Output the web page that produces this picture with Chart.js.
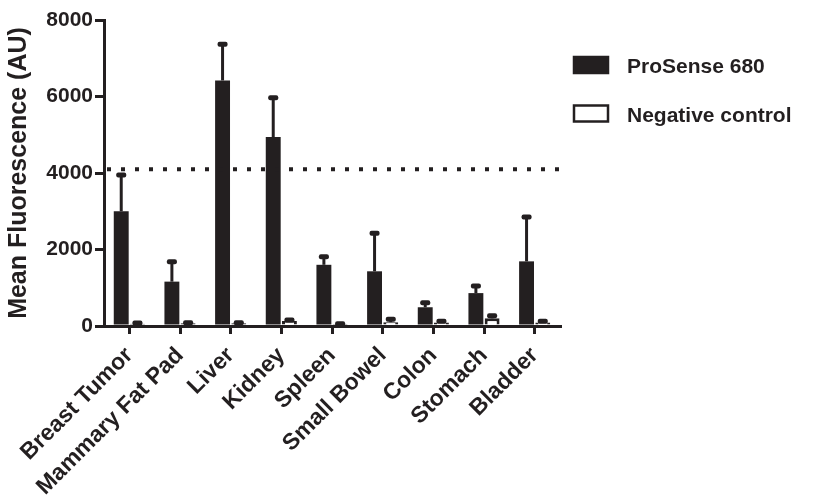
<!DOCTYPE html>
<html>
<head>
<meta charset="utf-8">
<script src="https://cdn.jsdelivr.net/npm/chart.js@4.4.1/dist/chart.umd.min.js"></script>
<style>
  html, body { margin: 0; padding: 0; background: #fff; }
  #wrap { width: 827px; height: 496px; position: relative; }
</style>
</head>
<body>
<div id="wrap"><canvas id="chart"></canvas></div>
<script>
// tissues and read-off values (AU)
const tissues = ['Breast Tumor', 'Mammary Fat Pad', 'Liver', 'Kidney', 'Spleen', 'Small Bowel', 'Colon', 'Stomach', 'Bladder'];
const prosense = [3000, 1160, 6420, 4940, 1600, 1430, 490, 860, 1690];
const prosenseErr = [960, 530, 960, 1040, 225, 1010, 130, 200, 1170];
const negative = [60, 70, 70, 130, 50, 100, 90, 200, 90];
const negativeErr = [30, 30, 30, 40, 20, 90, 50, 80, 50];
const yTicks = [0, 2000, 4000, 6000, 8000];
const thresholdValue = 4100;

const INK = '#231f20';
const FAMILY = '"Liberation Sans", Arial, sans-serif';

// upper error bars, dotted threshold line and the legend on the right
const extrasPlugin = {
    id: 'extras',
    afterDatasetsDraw(chart) {
        const ctx = chart.ctx;
        const yScale = chart.scales.y;
        const errs = [prosenseErr, negativeErr];
        ctx.save();
        ctx.strokeStyle = INK;
        ctx.fillStyle = INK;
        chart.data.datasets.forEach(function (ds, di) {
            const meta = chart.getDatasetMeta(di);
            meta.data.forEach(function (bar, i) {
                const top = yScale.getPixelForValue(ds.data[i] + errs[di][i]);
                ctx.lineWidth = 3;
                ctx.beginPath();
                ctx.moveTo(bar.x, bar.y);
                ctx.lineTo(bar.x, top);
                ctx.stroke();
                ctx.beginPath();
                ctx.roundRect(bar.x - 5, top - 2, 10, 5, 2);
                ctx.fill();
            });
        });
        const yLine = yScale.getPixelForValue(thresholdValue);
        ctx.lineWidth = 4;
        ctx.setLineDash([4, 10]);
        ctx.beginPath();
        ctx.moveTo(chart.chartArea.left + 3, yLine);
        ctx.lineTo(chart.chartArea.right, yLine);
        ctx.stroke();
        ctx.setLineDash([]);

        // legend
        ctx.font = 'bold 21px ' + FAMILY;
        ctx.textBaseline = 'alphabetic';
        chart.data.datasets.forEach(function (ds, di) {
            const y = 57 + di * 48.5;
            ctx.fillStyle = ds.backgroundColor;
            ctx.fillRect(574, y, 34, 16);
            ctx.strokeStyle = INK;
            ctx.lineWidth = 2.5;
            ctx.strokeRect(574, y, 34, 16);
            ctx.fillStyle = INK;
            ctx.fillText(ds.label, 627, y + 16);
        });
        ctx.restore();
    }
};

const ctx = document.getElementById('chart').getContext('2d');
const chart = new Chart(ctx, {
    type: 'bar',
    data: {
        labels: tissues,
        datasets: [{
            label: 'ProSense 680',
            data: prosense,
            backgroundColor: INK,
            borderColor: INK,
            borderWidth: 0
        }, {
            label: 'Negative control',
            data: negative,
            backgroundColor: '#ffffff',
            borderColor: INK,
            borderWidth: 3
        }]
    },
    options: {
        responsive: true,
        maintainAspectRatio: false,
        animation: false,
        layout: { padding: { top: 20, left: 0, right: 267, bottom: 0 } },
        datasets: {
            bar: { categoryPercentage: 0.64, barPercentage: 0.92 }
        },
        plugins: {
            tooltip: { enabled: false },
            legend: { display: false }
        },
        scales: {
            x: {
                grid: {
                    display: true,
                    drawOnChartArea: false,
                    offset: false,
                    color: INK,
                    lineWidth: 3,
                    tickLength: 8
                },
                border: { color: INK, width: 3 },
                ticks: {
                    color: INK,
                    font: { family: FAMILY, size: 23, weight: 'bold' },
                    maxRotation: 45,
                    minRotation: 45,
                    padding: 8
                },
                afterFit(scale) { scale.height = 170; }
            },
            y: {
                min: 0,
                max: 8000,
                afterBuildTicks(scale) { scale.ticks = yTicks.map(v => ({ value: v })); },
                grid: {
                    display: true,
                    drawOnChartArea: false,
                    color: INK,
                    lineWidth: 3,
                    tickLength: 9
                },
                border: { color: INK, width: 3 },
                ticks: {
                    color: INK,
                    font: { family: FAMILY, size: 21, weight: 'bold' },
                    padding: 2,
                    callback: v => String(v)
                },
                title: {
                    display: true,
                    text: 'Mean Fluorescence (AU)',
                    color: INK,
                    font: { family: FAMILY, size: 25, weight: 'bold' },
                    padding: { top: 4, bottom: 0 }
                },
                afterFit(scale) { scale.width = 104; }
            }
        }
    },
    plugins: [extrasPlugin]
});
</script>
</body>
</html>
